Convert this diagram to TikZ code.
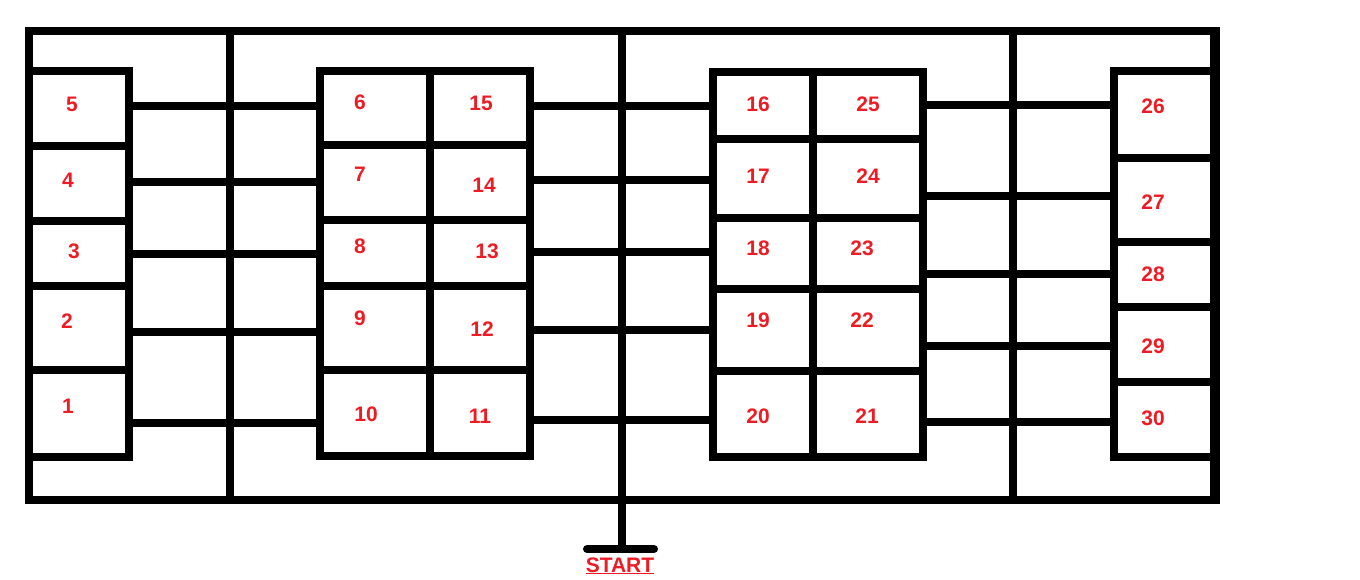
\documentclass[tikz,border=0pt]{standalone}
\usepackage{fontspec}
\setmainfont{Liberation Sans}
\definecolor{lbl}{RGB}{237,28,36}

\begin{document}
\begin{tikzpicture}[x=1pt,y=-1pt,line width=8pt,line join=miter,
  lab/.style={text=lbl,font=\fontsize{21}{21}\selectfont\bfseries,inner sep=0pt}]
 \useasboundingbox (0,0) rectangle (1360,579);
 % outer frame and aisles
 \draw (29,31) rectangle (1215,500);
 \draw[line width=10pt] (1215,27)--(1215,504);
 \draw (230,31)--(230,500);
 \draw (1013,31)--(1013,500);
 \draw (622,31)--(622,549);
 \coordinate (s1) at (587,549); \coordinate (s2) at (654,549);
 \draw[line cap=round] (s1)--(s2);
 % block 1-5
 \draw (29,71)--(129,71)--(129,457)--(29,457);
 \foreach \y in {146,221,286,370} \draw (29,\y)--(129,\y);
 \foreach \y in {106,182,254,332,423} \draw (129,\y)--(320,\y);
 % block 6-15
 \draw (320,71) rectangle (530,456);
 \draw (430,71)--(430,456);
 \foreach \y in {145,220,286,370} \draw (320,\y)--(530,\y);
 \foreach \y in {106,180,252,330,420} \draw (530,\y)--(713,\y);
 % block 16-25
 \draw (713,72) rectangle (923,457);
 \draw (813,72)--(813,457);
 \foreach \y in {139,218,289,371} \draw (713,\y)--(923,\y);
 \foreach \y in {105,196,274,346,422} \draw (923,\y)--(1114,\y);
 % block 26-30
 \draw (1215,71)--(1114,71)--(1114,457)--(1215,457);
 \foreach \y in {158,242,307,382} \draw (1114,\y)--(1215,\y);
 % numbers
 \foreach \n/\x/\y in {1/68/406,2/67/321,3/74/251,4/68/180,5/72/104,
   6/360/102,7/360/174,8/360/246,9/360/318,10/366/414,
   11/480/416,12/482/329,13/487/251,14/484/185,15/481/103,
   16/758/104,17/758/176,18/758/248,19/758/320,20/758/416,
   21/867/416,22/862/320,23/862/248,24/868/176,25/868/104,
   26/1153/106,27/1153/202,28/1153/274,29/1153/346,30/1153/418}
   \node[lab] (c\n) at (\x,\y) {\n};
 \node[lab,anchor=base] (start) at (620,572) {\underline{START}};
\end{tikzpicture}
\end{document}
